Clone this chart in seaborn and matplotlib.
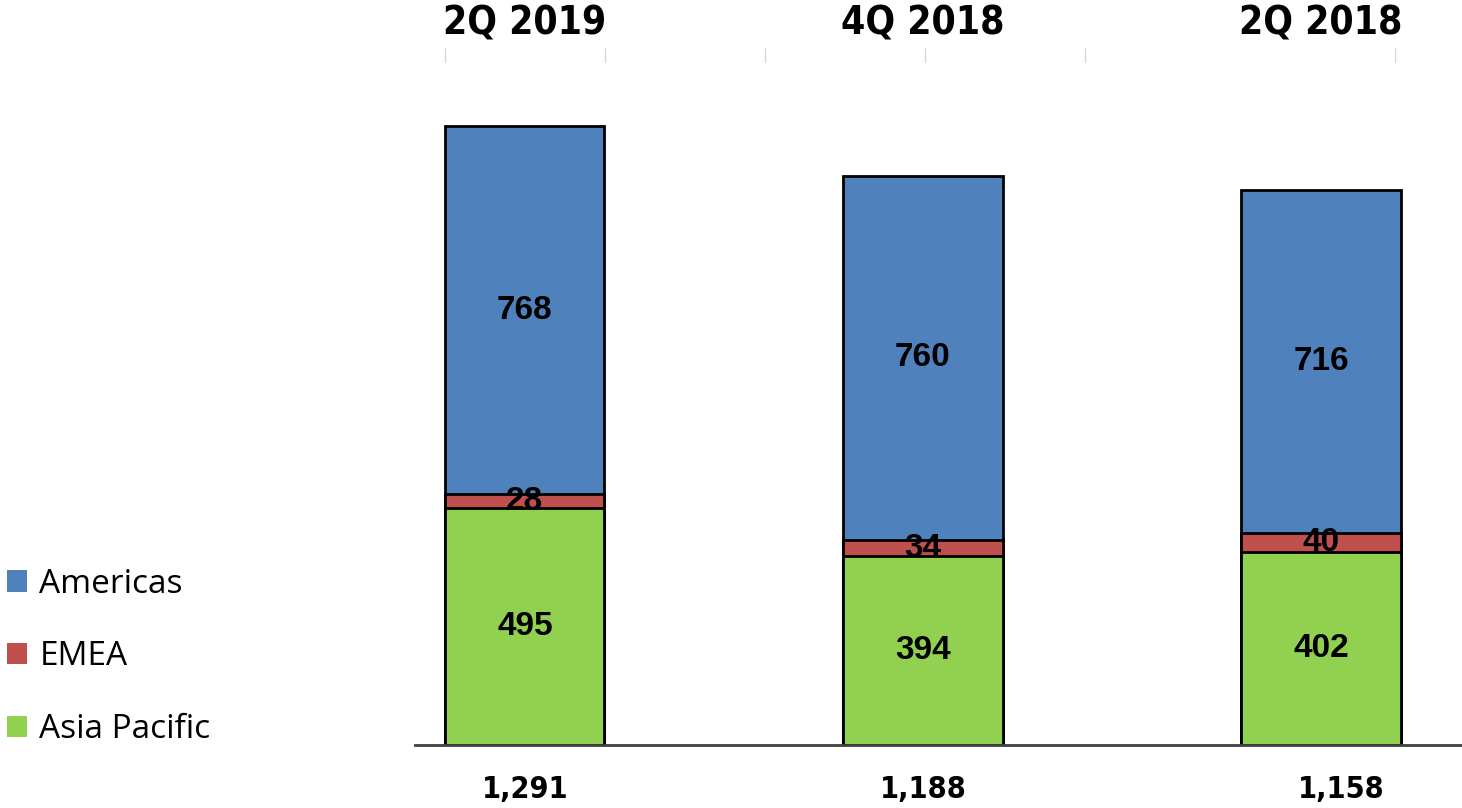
import numpy as np
import pandas as pd
import matplotlib.pyplot as plt
import seaborn as sns
from matplotlib.patches import Patch
from matplotlib.lines import Line2D

# datos
quarters = ["2Q 2019", "4Q 2018", "2Q 2018"]
americas = [768, 760, 716]
emea = [28, 34, 40]
asia_pacific = [495, 394, 402]
total_labels = ["1,291", "1,188", "1,158"]

colors = {"Americas": "#4F81BD", "EMEA": "#C0504D", "Asia Pacific": "#92D050"}

df = pd.DataFrame({"quarter": quarters, "Americas": americas,
                   "EMEA": emea, "Asia Pacific": asia_pacific})
df["ap"] = df["Asia Pacific"]
df["ap_emea"] = df["ap"] + df["EMEA"]
df["total"] = df["ap_emea"] + df["Americas"]

sns.set_theme(style="white")
plt.rcParams['font.family'] = ['Liberation Sans', 'DejaVu Sans']
plt.rcParams['text.color'] = 'black'

fig = plt.figure(figsize=(14.62, 8.08), dpi=100)
ax = fig.add_axes([415 / 1462, 63 / 808, 1047 / 1462, 671 / 808])

# barras apiladas: se dibujan los acumulados de mayor a menor
for col, name in [("total", "Americas"), ("ap_emea", "EMEA"), ("ap", "Asia Pacific")]:
    sns.barplot(data=df, x="quarter", y=col, color=colors[name], width=0.4,
                edgecolor="black", linewidth=2, saturation=1, ax=ax)

titulo = dict(family="DejaVu Sans", fontstretch="condensed", fontweight="bold", color="black")

# etiquetas dentro de cada segmento
for i in range(len(quarters)):
    ap, ae, tot = df.loc[i, "ap"], df.loc[i, "ap_emea"], df.loc[i, "total"]
    ax.text(i, ap / 2, str(asia_pacific[i]), ha="center", va="center",
            fontsize=24, fontweight="bold", color="black")
    ax.text(i, (ap + ae) / 2, str(emea[i]), ha="center", va="center",
            fontsize=24, fontweight="bold", color="black")
    ax.text(i, (ae + tot) / 2, str(americas[i]), ha="center", va="center",
            fontsize=24, fontweight="bold", color="black")
    ax.text(i + (0.05 if i == 2 else 0), -0.067, total_labels[i],
            transform=ax.get_xaxis_transform(), ha="center", va="center",
            fontsize=22, **titulo)
    ax.text(i, 1.075, quarters[i], transform=ax.get_xaxis_transform(),
            ha="center", va="center", fontsize=28, **titulo)

ax.set_xlim(-0.276, 2.354)
ax.set_ylim(0, 1400)
ax.set_xticks([])
ax.set_yticks([])
ax.set_xlabel("")
ax.set_ylabel("")
for s in ["top", "left", "right"]:
    ax.spines[s].set_visible(False)
ax.spines["bottom"].set_color("#404040")
ax.spines["bottom"].set_linewidth(2)

# marcas grises tenues arriba
for xp in [445, 605, 765, 925, 1085, 1395]:
    fig.add_artist(Line2D([xp / 1462, xp / 1462], [1 - 48 / 808, 1 - 62 / 808],
                          transform=fig.transFigure, color="#d9d9d9", lw=1))

handles = [Patch(facecolor=colors[n], edgecolor="none") for n in ["Americas", "EMEA", "Asia Pacific"]]
fig.legend(handles, ["Americas", "EMEA", "Asia Pacific"], loc="center left",
           bbox_to_anchor=(0.005, 0.187), frameon=False,
           handlelength=0.6, handleheight=0.6, handletextpad=0.36,
           labelspacing=1.19, borderpad=0, borderaxespad=0,
           prop={"family": "Open Sans", "size": 24}, labelcolor="black")

fig.savefig("out.png", dpi=100)
